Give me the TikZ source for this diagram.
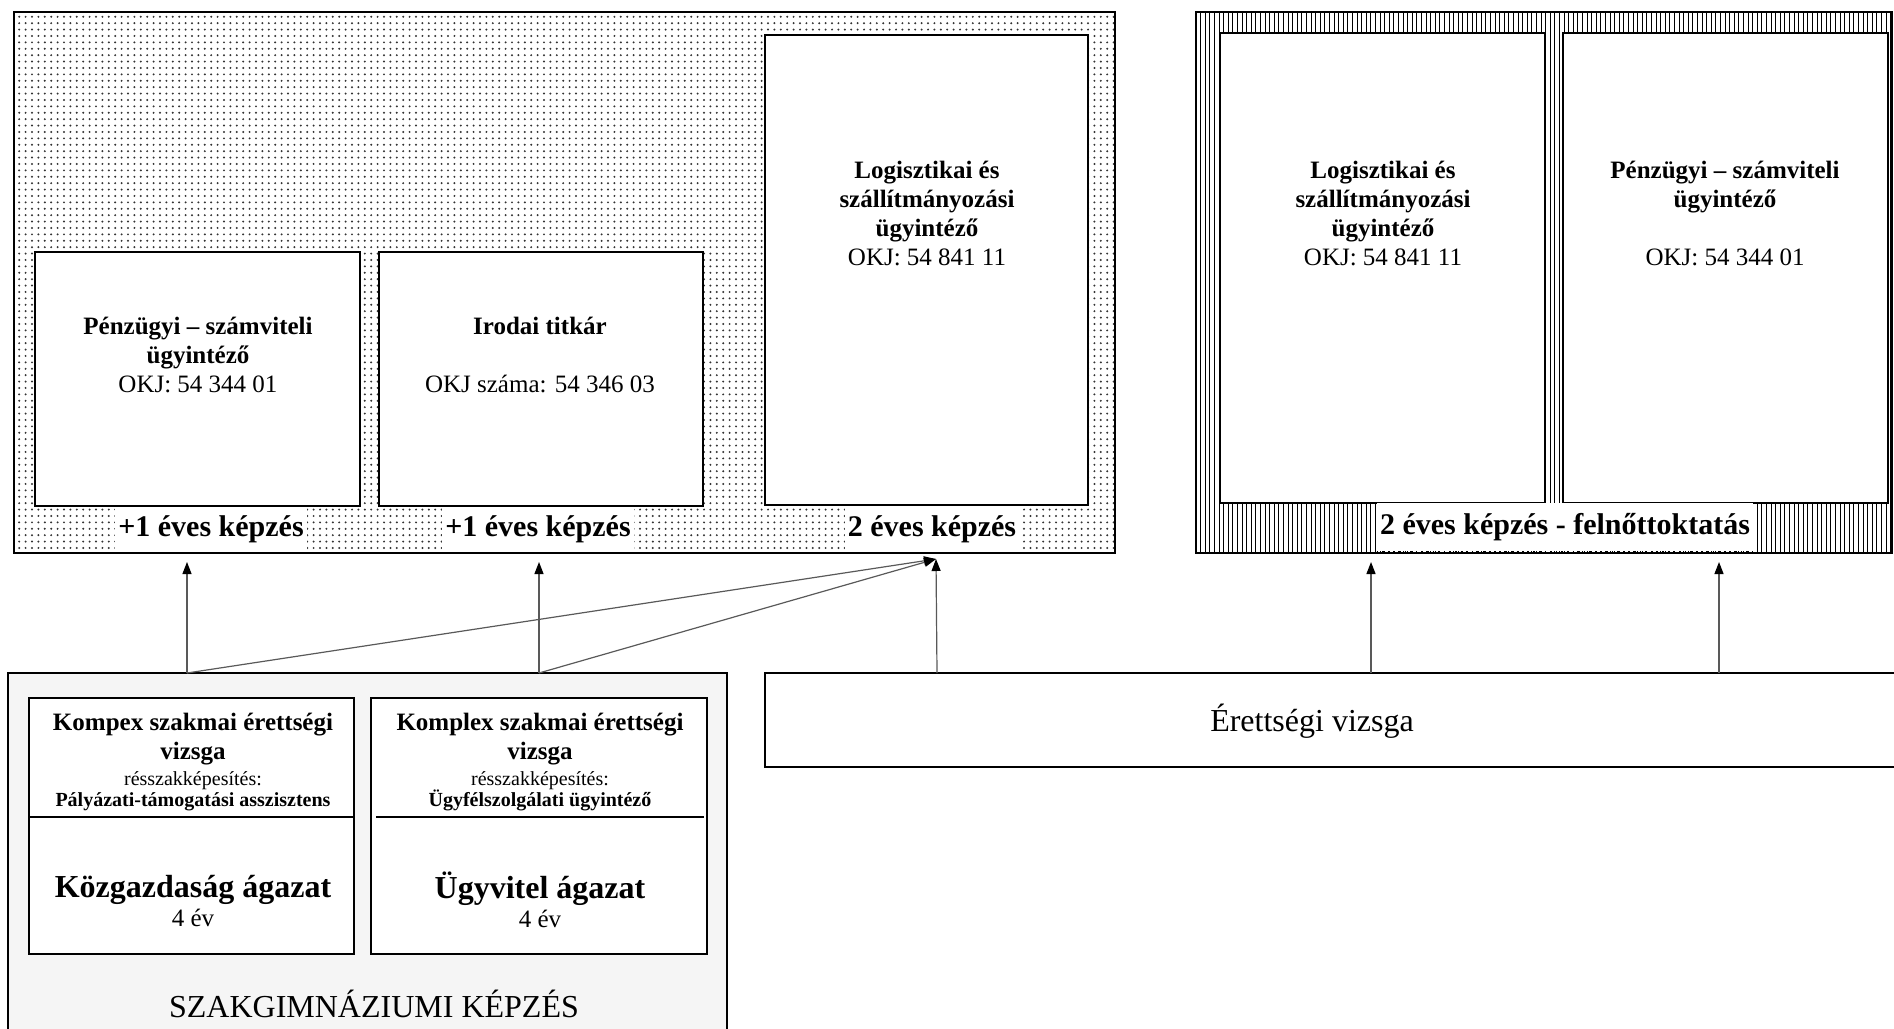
\documentclass[tikz,border=0pt]{standalone}
\usepackage{fontspec}
\setmainfont{Liberation Serif}
\usetikzlibrary{arrows.meta, positioning, patterns.meta}

\begin{document}
\begin{tikzpicture}[x=0.5pt, y=-0.5pt,
    every node/.style={inner sep=0pt},
    box/.style={draw, line width=0.8pt, fill=white},
    txt/.style={align=center, font=\fontsize{12.5}{14.5}\selectfont},
    lbl/.style={fill=white, font=\bfseries\fontsize{15}{17}\selectfont, inner xsep=1.5pt, minimum height=22pt},
    arr/.style={-{Triangle[length=6pt, width=4.5pt, color=black]}, draw=black!65, line width=0.6pt}]
\useasboundingbox (0,0) rectangle (1894,1028);

% Upper left block (dotted)
\node[draw, line width=0.8pt, pattern={Dots[distance=3.2pt, radius=0.55pt]}, pattern color=black!80,
      minimum width=550.5pt, minimum height=270.5pt] (nappali) at (564.5,282.5) {};
\node[box, minimum width=162.5pt, minimum height=127pt] (penz) at (197.5,379) {};
\node[box, minimum width=162pt, minimum height=127pt] (iroda) at (541,379) {};
\node[box, minimum width=161.5pt, minimum height=235pt] (logi) at (926.5,270) {};
\node[txt] (penzT) at (198,355) {\textbf{Pénzügyi – számviteli}\\\textbf{ügyintéző}\\OKJ: 54 344 01};
\node[txt] (irodaT) at (540,355) {\textbf{Irodai titkár}\\[14.5pt]OKJ száma: 54 346 03};
\node[txt] (logiT) at (927,213.5) {\textbf{Logisztikai és}\\\textbf{szállítmányozási}\\\textbf{ügyintéző}\\OKJ: 54 841 11};
\node[lbl] (ev1) at (211,529) {+1 éves képzés};
\node[lbl] (ev2) at (538,529) {+1 éves képzés};
\node[lbl] (ev3) at (932,529) {2 éves képzés};

% Upper right block (vertical lines)
\node[draw, line width=0.8pt, pattern={Lines[angle=90, distance=2.3pt, line width=0.5pt]},
      minimum width=348pt, minimum height=270.5pt] (felnott) at (1544,282.5) {};
\node[box, minimum width=162.5pt, minimum height=235pt] (logiF) at (1382.5,268) {};
\node[box, minimum width=162.5pt, minimum height=235pt] (penzF) at (1725.5,268) {};
\node[txt] (logiFT) at (1383,213.5) {\textbf{Logisztikai és}\\\textbf{szállítmányozási}\\\textbf{ügyintéző}\\OKJ: 54 841 11};
\node[txt] (penzFT) at (1725,213.5) {\textbf{Pénzügyi – számviteli}\\\textbf{ügyintéző}\\[14.5pt]OKJ: 54 344 01};
\node[lbl, minimum height=24pt] (ev4) at (1565,527) {2 éves képzés - felnőttoktatás};
\draw[dotted, line width=0.8pt] (ev4.south west) -- (ev4.south east);

% Erettsegi
\node[box, minimum width=567.5pt, minimum height=47pt] (erett) at (1332.5,720) {};
\node[font=\fontsize{16}{19}\selectfont] (erettT) at (1312,721) {Érettségi vizsga};

% Szakgimnazium
\node[draw, line width=0.8pt, fill=black!4, minimum width=359.5pt, minimum height=183.5pt] (szak) at (367.5,856.5) {};
\node[box, minimum width=162.5pt, minimum height=128pt] (kozg) at (191.5,826) {};
\node[box, minimum width=168pt, minimum height=128pt] (ugyv) at (539,826) {};
\coordinate (div) at (0,817);
\draw[line width=0.8pt] (kozg.west |- div) -- (kozg.east |- div);
\draw[line width=0.8pt] ([xshift=3pt]ugyv.west |- div) -- ([xshift=-2pt]ugyv.east |- div);
\node[txt] (kozgT) at (193,762) {\textbf{Kompex szakmai érettségi}\\\textbf{vizsga}\\[-1.5pt]{\fontsize{10}{11}\selectfont résszakképesítés:}\\[-4pt]{\fontsize{10}{11}\selectfont\bfseries Pályázati-támogatási asszisztens}};
\node[txt] (ugyvT) at (540,762) {\textbf{Komplex szakmai érettségi}\\\textbf{vizsga}\\[-1.5pt]{\fontsize{10}{11}\selectfont résszakképesítés:}\\[-4pt]{\fontsize{10}{11}\selectfont\bfseries Ügyfélszolgálati ügyintéző}};
\node[txt] (kozgB) at (193,901) {{\fontsize{16}{19}\selectfont\bfseries Közgazdaság ágazat}\\4 év};
\node[txt] (ugyvB) at (540,900) {{\fontsize{16}{19}\selectfont\bfseries Ügyvitel ágazat}\\4 év};
\node[font=\fontsize{16}{19}\selectfont] (szakT) at (374,1004) {SZAKGIMNÁZIUMI KÉPZÉS};

% Arrows
\coordinate (s1) at (187,673);
\coordinate (s2) at (539,673);
\coordinate (e1) at (937,673);
\coordinate (e2) at (1371,673);
\coordinate (e3) at (1719,673);
\coordinate (t1) at (187,562);
\coordinate (t2) at (539,562);
\coordinate (t3) at (936,559);
\coordinate (t4) at (1371,562);
\coordinate (t5) at (1719,562);
\foreach \a/\b in {s1/t1, s2/t2, s1/t3, s2/t3, e1/t3, e2/t4, e3/t5}
    \draw[arr] (\a) -- (\b);
\end{tikzpicture}
\end{document}
